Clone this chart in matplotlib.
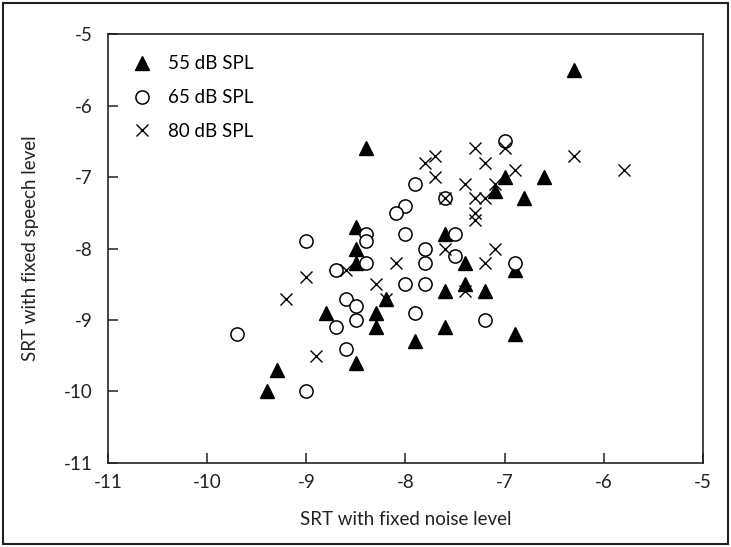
import matplotlib.pyplot as plt
from matplotlib.patches import Rectangle

plt.rcParams['font.family'] = ['Lato', 'DejaVu Sans']
plt.rcParams['axes.unicode_minus'] = False

# 55 dB SPL (filled triangles)
x55 = [-6.3, -8.4, -7.0, -6.6, -7.1, -6.8, -7.6, -8.5, -8.5, -8.5, -8.8, -8.3, -8.3,
       -8.2, -9.3, -9.4, -8.5, -7.9, -7.4, -7.6, -7.4, -7.2, -6.9, -7.6, -6.9]
y55 = [-5.5, -6.6, -7.0, -7.0, -7.2, -7.3, -7.8, -7.7, -8.0, -8.2, -8.9, -8.9, -9.1,
       -8.7, -9.7, -10.0, -9.6, -9.3, -8.2, -8.6, -8.5, -8.6, -8.3, -9.1, -9.2]

# 65 dB SPL (open circles)
x65 = [-7.0, -7.9, -7.6, -8.0, -8.1, -8.0, -7.5, -7.8, -8.4, -8.4, -9.0, -8.4, -8.7, -8.0,
       -7.8, -7.5, -7.8, -6.9, -8.6, -8.5, -8.5, -8.7, -7.9, -9.7, -8.6, -9.0, -7.2]
y65 = [-6.5, -7.1, -7.3, -7.4, -7.5, -7.8, -7.8, -8.0, -7.8, -7.9, -7.9, -8.2, -8.3, -8.5,
       -8.2, -8.1, -8.5, -8.2, -8.7, -8.8, -9.0, -9.1, -8.9, -9.2, -9.4, -10.0, -9.0]

# 80 dB SPL (crosses)
x80 = [-7.3, -7.0, -6.3, -5.8, -7.7, -7.8, -7.2, -6.9, -7.7, -7.4, -7.1, -7.6, -7.3, -7.2,
       -7.3, -7.3, -7.6, -7.1, -8.1, -7.2, -8.6, -8.3, -7.4, -8.2, -9.0, -9.2, -8.9]
y80 = [-6.6, -6.6, -6.7, -6.9, -6.7, -6.8, -6.8, -6.9, -7.0, -7.1, -7.1, -7.3, -7.3, -7.3,
       -7.5, -7.6, -8.0, -8.0, -8.2, -8.2, -8.3, -8.5, -8.6, -8.7, -8.4, -8.7, -9.5]

ticks = [-11, -10, -9, -8, -7, -6, -5]

fig = plt.figure(figsize=(7.31, 5.47), dpi=100)
ax = fig.add_axes([0.1477, 0.1536, 0.8140, 0.7842])

ax.plot(x55, y55, '^', ms=10.5, mfc='black', mec='black', label='55 dB SPL')
ax.plot(x65, y65, 'o', ms=9.5, mfc='white', mec='black', mew=1.1, label='65 dB SPL')
ax.plot(x80, y80, 'x', ms=8.5, color='black', mew=1.0, label='80 dB SPL')

ax.set_xlim(-11, -5)
ax.set_ylim(-11, -5)
ax.set_xticks(ticks)
ax.set_yticks(ticks)
ax.tick_params(direction='in', length=7, width=1.1, labelsize=13.5, colors='#222222',
               top=False, right=False)
ax.tick_params(axis='x', pad=8)
ax.tick_params(axis='y', pad=11)
for s in ax.spines.values():
  s.set_linewidth(1.2)
  s.set_color('#222222')

ax.set_xlabel('SRT with fixed noise level', fontsize=13.5, color='#222222', labelpad=14)
ax.set_ylabel('SRT with fixed speech level', fontsize=13.5, color='#222222', labelpad=18)

ax.legend(loc='upper left', bbox_to_anchor=(0.01, 0.99), frameon=False, fontsize=13.5,
          handlelength=1.2, handletextpad=0.8, labelspacing=0.9, numpoints=1)

# outer frame around the whole figure
fig.patches.append(Rectangle((0.004, 0.006), 0.992, 0.988, transform=fig.transFigure,
                             fill=False, lw=1.5, ec='#222222'))

fig.savefig('out.png', dpi=100)
